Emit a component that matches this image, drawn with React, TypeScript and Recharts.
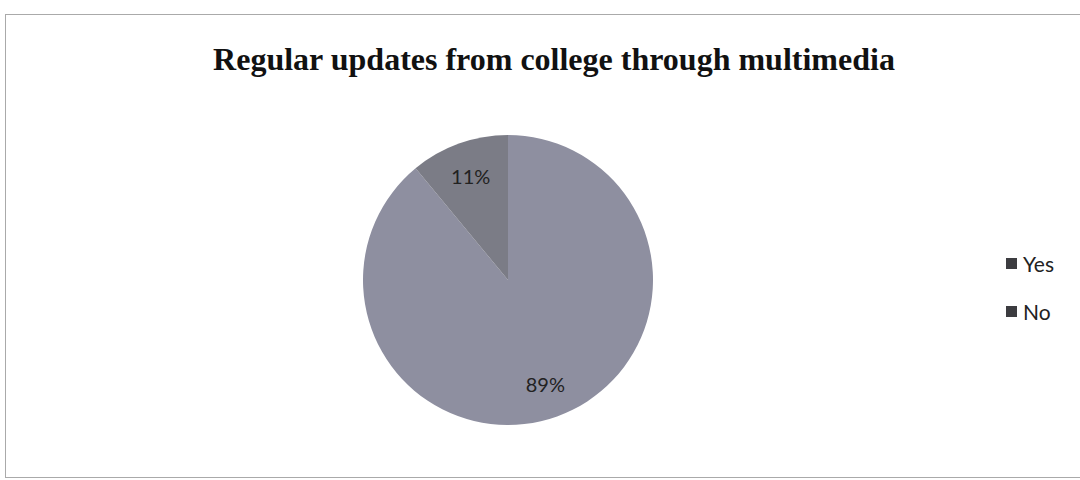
import { PieChart, Pie, Cell, Legend } from "recharts";

const categories = ["Yes", "No"];
const percents = [89, 11];

const sliceColors = ["#8e8fa0", "#7b7c86"];
const legendColor = "#3c3c40";

const chartData = categories.map((name, i) => ({ name, value: percents[i] }));

const RADIAN = Math.PI / 180;

function renderLabel(props: any) {
    const { cx, cy, midAngle, outerRadius, value } = props;
    const r = outerRadius * 0.76;
    const x = cx + r * Math.cos(-midAngle * RADIAN);
    const y = cy + r * Math.sin(-midAngle * RADIAN);
    return (
        <text
            x={x}
            y={y}
            fill="#222"
            textAnchor="middle"
            dominantBaseline="central"
            style={{ fontFamily: "Lato, 'Open Sans', sans-serif", fontSize: 20 }}
        >
            {`${value}%`}
        </text>
    );
}

function renderLegend(props: any) {
    // keep the legend in data order, not sorted
    const items = [...(props.payload || [])].sort(
        (a: any, b: any) => categories.indexOf(a.value) - categories.indexOf(b.value)
    );
    return (
        <div style={{ fontFamily: "Lato, 'Open Sans', sans-serif", fontSize: 21, color: "#222" }}>
            {items.map((entry: any) => (
                <div key={entry.value} style={{ display: "flex", alignItems: "center", height: 48 }}>
                    <span
                        style={{ display: "inline-block", width: 11, height: 11, background: legendColor, marginRight: 6 }}
                    />
                    <span>{entry.value}</span>
                </div>
            ))}
        </div>
    );
}

export default function App() {
    return (
        <div
            style={{
                position: "absolute",
                left: 0,
                top: 0,
                width: 1080,
                height: 480,
                background: "#fff",
                overflow: "hidden",
            }}
        >
            <div
                style={{
                    position: "absolute",
                    left: 5,
                    top: 14,
                    width: 1090,
                    height: 462,
                    border: "1.5px solid #aaa",
                    borderRight: "none",
                }}
            />
            <div
                style={{
                    position: "absolute",
                    left: 0,
                    top: 41,
                    width: 1108,
                    textAlign: "center",
                    fontFamily: "'Liberation Serif', 'Times New Roman', serif",
                    fontWeight: "bold",
                    fontSize: 32,
                    color: "#111",
                }}
            >
                Regular updates from college through multimedia
            </div>
            <PieChart
                width={1080}
                height={480}
                margin={{ top: 0, right: 0, bottom: 0, left: 0 }}
                style={{ position: "absolute", left: 0, top: 0 }}
            >
                <Pie
                    data={chartData}
                    dataKey="value"
                    nameKey="name"
                    cx={508}
                    cy={280}
                    outerRadius={145}
                    startAngle={90}
                    endAngle={-270}
                    stroke="none"
                    label={renderLabel}
                    labelLine={false}
                    isAnimationActive={false}
                >
                    {chartData.map((d, i) => (
                        <Cell key={d.name} fill={sliceColors[i]} />
                    ))}
                </Pie>
                <Legend
                    layout="vertical"
                    align="right"
                    verticalAlign="middle"
                    content={renderLegend}
                    wrapperStyle={{ left: 1006, right: "auto", top: 239, width: 70 }}
                />
            </PieChart>
        </div>
    );
}
